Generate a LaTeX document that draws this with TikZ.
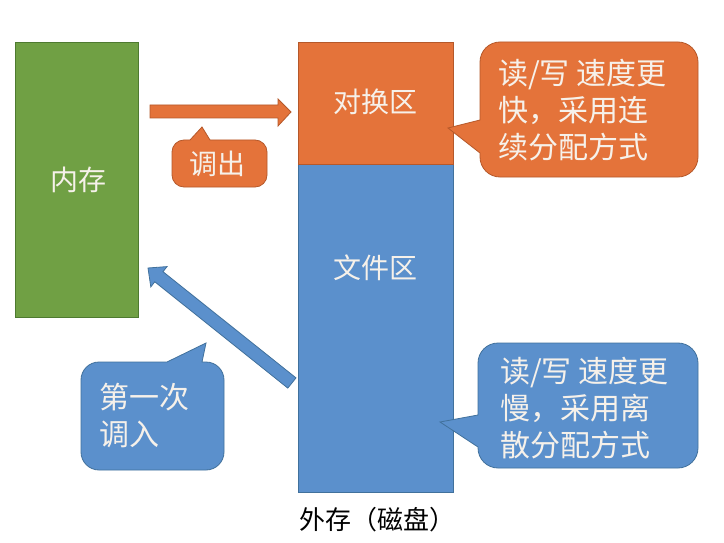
\documentclass[tikz,border=0pt]{standalone}
\usepackage{fontspec}
\newfontfamily\cjk{Noto Sans CJK SC}
\usetikzlibrary{calc}
\definecolor{memgreen}{HTML}{70A044}
\definecolor{memgreenD}{HTML}{4E7A30}
\definecolor{orng}{HTML}{E4733A}
\definecolor{orngD}{HTML}{B5582A}
\definecolor{blu}{HTML}{5B90CC}
\definecolor{bluD}{HTML}{41719C}
\definecolor{lighttext}{HTML}{F6F1EA}
\tikzset{
  orangeshape/.style={fill=orng,draw=orngD,line width=0.8pt},
  blueshape/.style={fill=blu,draw=bluD,line width=0.8pt},
  greenshape/.style={fill=memgreen,draw=memgreenD,line width=0.8pt},
  boxtext/.style={text=lighttext,font=\cjk\fontsize{28}{34}\selectfont,inner sep=0pt},
  calltext/.style={text=lighttext,font=\cjk\fontsize{30}{37}\selectfont,align=left,inner sep=0pt,anchor=west},
}
\begin{document}
\begin{tikzpicture}[x=1pt,y=-1pt]
\useasboundingbox (0,0) rectangle (724,543);
\fill[white] (0,0) rectangle (724,543);
% memory
\draw[greenshape] (15,42) rectangle (138,317);
\node[boxtext] (mem) at (78,180) {内存};
% disk
\draw[blueshape] (298,164) rectangle (453,492);
\draw[orangeshape] (298,42) rectangle (453,164);
\node[boxtext] (swap) at (375,102) {对换区};
\node[boxtext] (file) at (375,268) {文件区};
\node[text=black,font=\cjk\fontsize{26}{30}\selectfont,inner sep=0pt] (disk) at (377,520) {外存（磁盘）};
% orange block arrow
\coordinate (oa) at (150,111.5);
\draw[orangeshape] (oa) ++(0,-6.5) -- (278,105) -- (278,99) -- (291,112) -- (278,126) -- (278,118) -- (150,118) -- cycle;
% blue block arrow
\coordinate (bh) at (148,268);
\coordinate (bt) at (292,383);
\draw[blueshape] (bh) -- (167.0,266.6) -- (163.0,271.7) -- (296.0,377.9) -- (287.8,388.1) -- (154.8,281.8) -- (150.8,286.9) -- cycle;
% callout 调出
\draw[orangeshape] (190,140) -- (202,127) -- (210,140) [rounded corners=12pt] -- (267,140) -- (267,187) -- (172,187) -- (172,140) [sharp corners] -- cycle;
\node[boxtext] (out) at (217,164) {调出};
% callout right orange
\draw[orangeshape] (480,153) -- (448,128) -- (480,120) [rounded corners=20pt] -- (480,42) -- (698,42) -- (698,177) -- (480,177) [sharp corners] -- (480,153) -- cycle;
\node[calltext] (fast) at (498,110) {读/写 速度更\\快，采用连\\续分配方式};
% callout right blue
\draw[blueshape] (478,447) -- (440,422) -- (478,415) [rounded corners=20pt] -- (478,343) -- (698,343) -- (698,468) -- (478,468) [sharp corners] -- (478,447) -- cycle;
\node[calltext] (slow) at (500,408) {读/写 速度更\\慢，采用离\\散分配方式};
% callout first in
\draw[blueshape] (167,362) -- (206,343) -- (202,362) [rounded corners=18pt] -- (224,362) -- (224,470) -- (81,470) -- (81,362) [sharp corners] -- cycle;
\node[calltext] (first) at (99,416) {第一次\\调入};
\end{tikzpicture}
\end{document}
